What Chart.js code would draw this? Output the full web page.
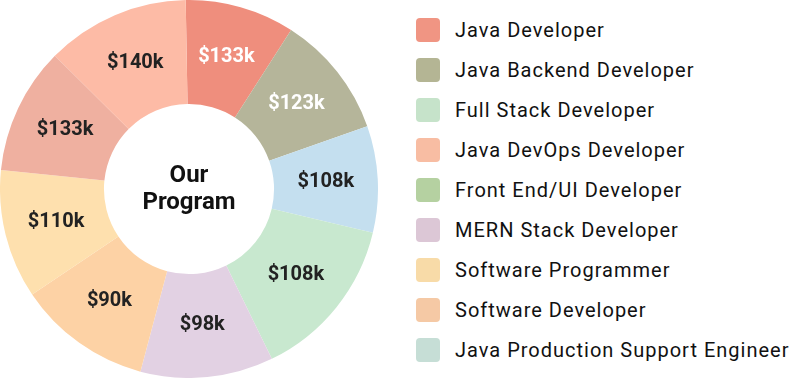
<!DOCTYPE html>
<html>
<head>
<meta charset="utf-8">
<script src="https://cdn.jsdelivr.net/npm/chart.js@4.4.1/dist/chart.umd.min.js"></script>
<style>
    html, body { margin: 0; padding: 0; background: #fff; }
    #wrap { position: relative; width: 800px; height: 378px; font-family: Roboto, "Noto Sans", sans-serif; }
    #chart-box { position: absolute; left: 0; top: 0; width: 378px; height: 378px; }
    #legend { position: absolute; left: 416px; top: 10px; margin: 0; padding: 0; list-style: none; }
    #legend li { display: flex; align-items: center; height: 40px; font-size: 20px; font-weight: 400; letter-spacing: 1px; color: #111; }
    #legend .box { width: 24px; height: 24px; border-radius: 4px; margin-right: 15px; flex: none; }
</style>
</head>
<body>
<div id="wrap">
    <div id="chart-box"><canvas id="salary-chart" width="378" height="378"></canvas></div>
    <ul id="legend"></ul>
</div>
<script>
// Roles del listado lateral y sus colores
const jobRoles = [
    'Java Developer', 'Java Backend Developer', 'Full Stack Developer',
    'Java DevOps Developer', 'Front End/UI Developer', 'MERN Stack Developer',
    'Software Programmer', 'Software Developer', 'Java Production Support Engineer'
];
const legendColors = [
    '#F09583', '#B4B594', '#C6E3CA', '#F8BDA3', '#B5D1A1',
    '#DCC7D6', '#F8DBA8', '#F5C9A5', '#C6DED6'
];

// Porciones del anillo (en sentido horario desde arriba)
const salaryLabels = ['$133k', '$123k', '$108k', '$108k', '$98k', '$90k', '$110k', '$133k', '$140k'];
const sliceShares = [33.7, 37.9, 32.8, 50.6, 40.9, 41.2, 39.7, 39.0, 44.2];
const sliceColors = [
    '#EF8E7D', '#B5B59A', '#C4DFEF', '#C8E8CF', '#E2D1E3',
    '#FDD2A5', '#FEE0AE', '#EFB0A0', '#FDBBA6'
];
const labelColors = ['#fff', '#fff', '#222', '#222', '#222', '#222', '#222', '#222', '#222'];
const centerLines = ['Our', 'Program'];

// Etiquetas dentro de cada porción
const sliceLabels = {
    id: 'sliceLabels',
    afterDatasetsDraw(chart) {
        const ctx = chart.ctx;
        const meta = chart.getDatasetMeta(0);
        ctx.save();
        ctx.font = 'bold 20px Roboto';
        ctx.textAlign = 'center';
        ctx.textBaseline = 'middle';
        meta.data.forEach((arc, i) => {
            const pos = arc.tooltipPosition();
            ctx.fillStyle = labelColors[i];
            ctx.fillText(salaryLabels[i], pos.x, pos.y);
        });
        ctx.restore();
    }
};

// Texto del centro
const centerText = {
    id: 'centerText',
    afterDraw(chart) {
        const ctx = chart.ctx;
        const arc = chart.getDatasetMeta(0).data[0];
        ctx.save();
        ctx.font = 'bold 24px Roboto';
        ctx.fillStyle = '#111';
        ctx.textAlign = 'center';
        ctx.textBaseline = 'middle';
        ctx.fillText(centerLines[0], arc.x, arc.y - 13);
        ctx.fillText(centerLines[1], arc.x, arc.y + 14);
        ctx.restore();
    }
};

new Chart(document.getElementById('salary-chart'), {
    type: 'doughnut',
    data: {
        labels: salaryLabels,
        datasets: [{
            data: sliceShares,
            backgroundColor: sliceColors,
            borderWidth: 0
        }]
    },
    options: {
        responsive: false,
        animation: false,
        devicePixelRatio: 1,
        cutout: '45%',
        rotation: -1,
        layout: { padding: 0 },
        plugins: {
            legend: { display: false },
            tooltip: { enabled: false }
        }
    },
    plugins: [sliceLabels, centerText]
});

// Leyenda en HTML
const legendList = document.getElementById('legend');
jobRoles.forEach((role, i) => {
    const li = document.createElement('li');
    const box = document.createElement('span');
    box.className = 'box';
    box.style.background = legendColors[i];
    li.appendChild(box);
    li.appendChild(document.createTextNode(role));
    legendList.appendChild(li);
});
</script>
</body>
</html>
